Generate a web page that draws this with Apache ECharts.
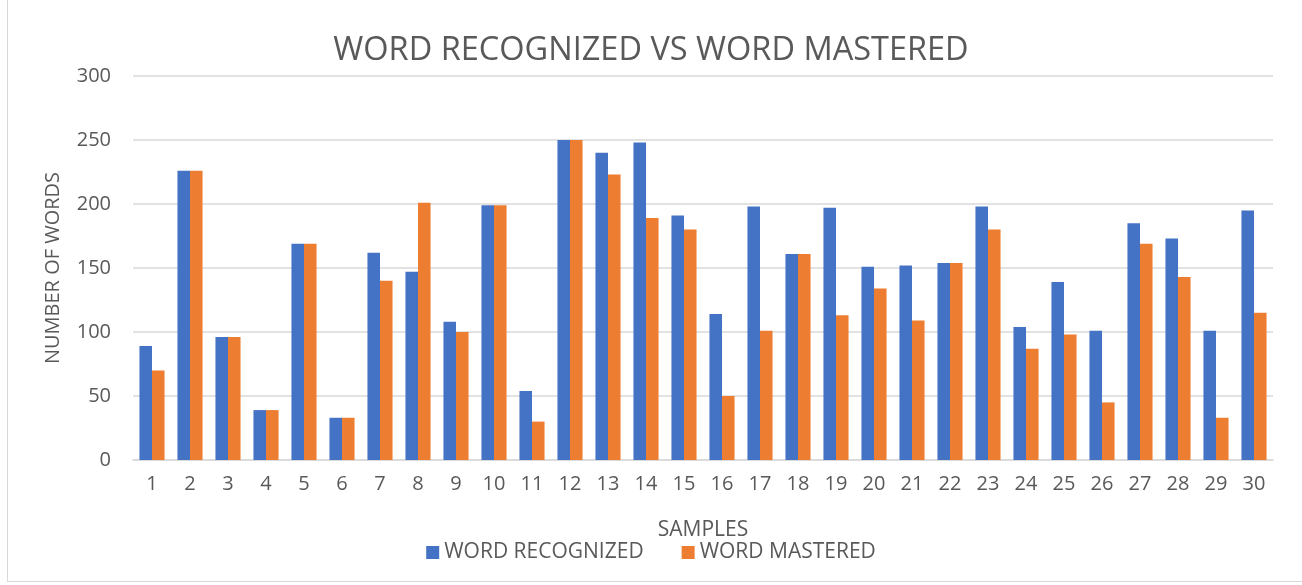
<!DOCTYPE html>
<html>
<head>
<meta charset="utf-8">
<script src="https://cdn.jsdelivr.net/npm/echarts@6/dist/echarts.min.js"></script>
<style>
  html, body { margin: 0; padding: 0; background: #fff; }
  #frame { position: absolute; left: 7px; top: -2px; width: 1300px; height: 584px; border: 1px solid #d9d9d9; box-sizing: border-box; }
  #chart { position: absolute; left: 0; top: 0; width: 1302px; height: 585px; }
</style>
</head>
<body>
<div id="frame"></div>
<div id="chart"></div>
<script>
var samples = ['1','2','3','4','5','6','7','8','9','10','11','12','13','14','15',
  '16','17','18','19','20','21','22','23','24','25','26','27','28','29','30']
var wordRecognized = [89, 226, 96, 39, 169, 33, 162, 147, 108, 199, 54, 250, 240, 248, 191,
  114, 198, 161, 197, 151, 152, 154, 198, 104, 139, 101, 185, 173, 101, 195]
var wordMastered = [70, 226, 96, 39, 169, 33, 140, 201, 100, 199, 30, 250, 223, 189, 180,
  50, 101, 161, 113, 134, 109, 154, 180, 87, 98, 45, 169, 143, 33, 115]

var textColor = '#595959'
var fontName = 'Open Sans'

var chart = echarts.init(document.getElementById('chart'))

var option = {
  animation: false,
  title: {
    text: 'WORD RECOGNIZED VS WORD MASTERED',
    left: 'center',
    top: 29,
    textStyle: { color: textColor, fontFamily: fontName, fontWeight: 'normal', fontSize: 32.5 }
  },
  legend: {
    data: ['WORD RECOGNIZED', 'WORD MASTERED'],
    left: 'center',
    top: 537,
    itemWidth: 13,
    itemHeight: 13,
    itemGap: 38,
    icon: 'rect',
    textStyle: { color: textColor, fontFamily: fontName, fontSize: 21 }
  },
  grid: { left: 133, right: 29, top: 76, bottom: 125 },
  xAxis: {
    type: 'category',
    data: samples,
    name: 'SAMPLES',
    nameLocation: 'middle',
    nameGap: 60,
    nameTextStyle: { color: textColor, fontFamily: fontName, fontSize: 21 },
    axisLine: { lineStyle: { color: '#d9d9d9', width: 1.5 } },
    axisTick: { show: false },
    axisLabel: { color: textColor, fontFamily: fontName, fontSize: 20, margin: 14 }
  },
  yAxis: {
    type: 'value',
    min: 0,
    max: 300,
    interval: 50,
    name: 'NUMBER OF WORDS',
    nameLocation: 'middle',
    nameGap: 70,
    nameTextStyle: { color: textColor, fontFamily: fontName, fontSize: 20 },
    axisLabel: { color: textColor, fontFamily: fontName, fontSize: 20, margin: 22 },
    splitLine: { lineStyle: { color: '#d9d9d9', width: 1.5 } }
  },
  series: [
    {
      name: 'WORD RECOGNIZED',
      type: 'bar',
      data: wordRecognized,
      itemStyle: { color: '#4472c4' },
      barGap: '0%',
      barCategoryGap: '34%'
    },
    {
      name: 'WORD MASTERED',
      type: 'bar',
      data: wordMastered,
      itemStyle: { color: '#ed7d31' }
    }
  ]
}

chart.setOption(option)
</script>
</body>
</html>
